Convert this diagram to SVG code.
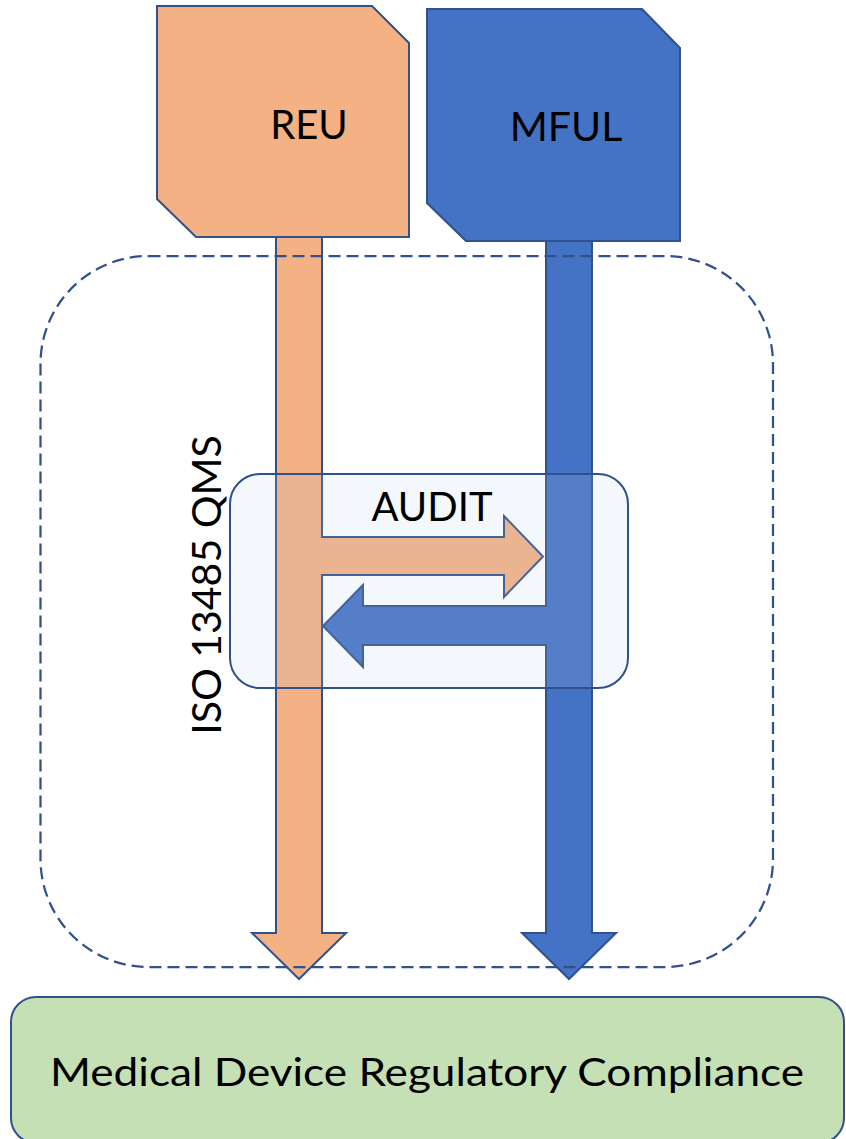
<svg xmlns="http://www.w3.org/2000/svg" width="846" height="1139" viewBox="0 0 846 1139">
<style>
.ln{stroke:#2F528F;stroke-width:2;stroke-linejoin:miter}
.or{fill:#F4B183}
.bl{fill:#4472C4}
.t{font-family:Lato,"Liberation Sans",sans-serif;fill:#000}
</style>
<rect width="846" height="1139" fill="#fff"/>
<g id="connectors">
<path id="reu-flow" class="ln or" d="M276,236 L322,236 L322,537 L504,537 L504,516 L543,556.5 L504,597 L504,575 L322,575 L322,933 L346,933 L299,979 L252,933 L276,933 Z"/>
<path id="mful-flow" class="ln bl" d="M546,240 L592,240 L592,933 L616,933 L569,979 L522,933 L546,933 L546,645 L363,645 L363,667 L323,626 L363,585 L363,606 L546,606 Z"/>
</g>
<g id="reu">
<path class="ln or" d="M157,6 L372,6 L409,43 L409,237 L196,237 L157,199 Z"/>
<text class="t" x="309" y="139" font-size="40" text-anchor="middle">REU</text>
</g>
<g id="mful">
<path class="ln bl" d="M427,9 L642,9 L680,48 L680,241 L466,241 L427,203 Z"/>
<text class="t" x="566" y="141" font-size="41" text-anchor="middle">MFUL</text>
</g>
<g id="audit">
<rect x="230" y="474" width="398" height="214" rx="30" ry="30" fill="#B4C7E7" fill-opacity="0.15" class="ln"/>
<text class="t" x="432" y="521" font-size="40" text-anchor="middle">AUDIT</text>
</g>
<g id="qms">
<rect x="40.5" y="256" width="732.5" height="711" rx="108" ry="108" fill="none" stroke="#2F528F" stroke-width="2.25" stroke-dasharray="12 6"/>
<text class="t" transform="translate(221,585) rotate(-90)" font-size="41" text-anchor="middle">ISO 13485 QMS</text>
</g>
<g id="compliance">
<rect x="11" y="997" width="833" height="146" rx="25" ry="25" fill="#C5E0B4" class="ln"/>
<text class="t" x="427" y="1086" font-size="39" text-anchor="middle" textLength="754" lengthAdjust="spacingAndGlyphs">Medical Device Regulatory Compliance</text>
</g>
</svg>
